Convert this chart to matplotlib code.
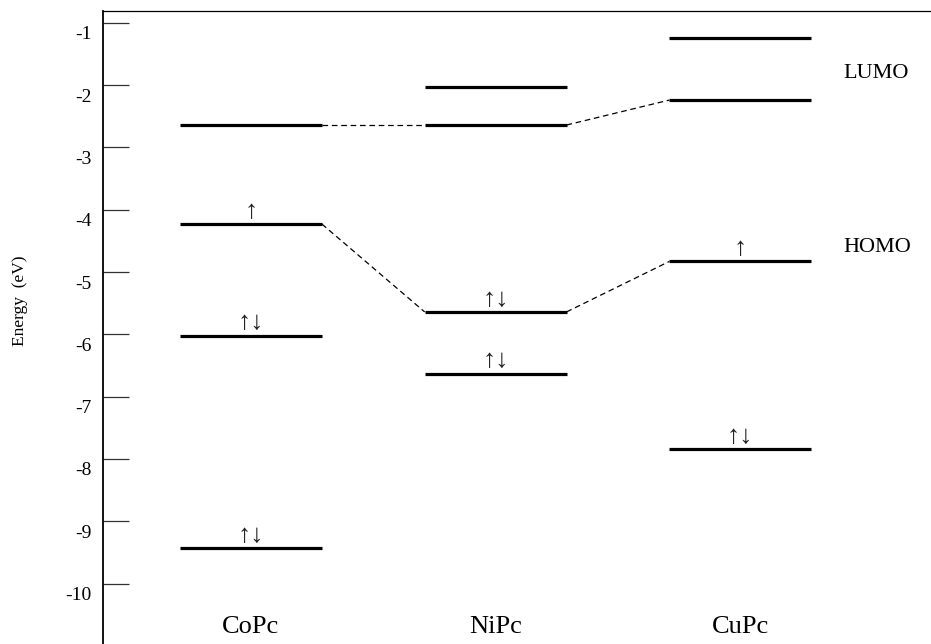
import matplotlib
matplotlib.use("Agg")
import matplotlib.pyplot as plt
from matplotlib.transforms import ScaledTranslation

plt.rcParams['font.family'] = ['Liberation Serif', 'DejaVu Sans']
plt.rcParams['axes.unicode_minus'] = False

# molecules and their orbital energies (eV)
molecules = ['CoPc', 'NiPc', 'CuPc']
co_levels = [-2.64, -4.23, -6.02, -9.43]
ni_levels = [-2.03, -2.64, -5.64, -6.63]
cu_levels = [-1.24, -2.24, -4.83, -7.84]
co_spins = ['', '↑', '↑↓', '↑↓']
ni_spins = ['', '', '↑↓', '↑↓']
cu_spins = ['', '', '↑', '↑↓']

# dashed links: (molecule index, energy) -> (molecule index, energy)
lumo_links = [(0, -2.64, 1, -2.64), (1, -2.64, 2, -2.24)]
homo_links = [(0, -4.23, 1, -5.64), (1, -5.64, 2, -4.83)]

fig = plt.figure(figsize=(9.31, 6.44), dpi=100)
ax = fig.add_axes([103 / 931, 0.0, 828 / 931, 633 / 644])

half = 0.29
all_levels = [co_levels, ni_levels, cu_levels]
all_spins = [co_spins, ni_spins, cu_spins]
for i, (levels, spins) in enumerate(zip(all_levels, all_spins)):
    xc = i + 1
    for e, s in zip(levels, spins):
        ax.plot([xc - half, xc + half], [e, e], color='black', lw=2.3,
                solid_capstyle='butt')
        if s:
            ax.text(xc, e + 0.02, s, ha='center', va='bottom', fontsize=19,
                    color='#222222')
    ax.text(xc, -10.69, molecules[i], ha='center', va='center', fontsize=19)

for a, ea, b, eb in lumo_links + homo_links:
    ax.plot([a + 1 + half, b + 1 - half], [ea, eb], color='black', lw=0.9,
            ls=(0, (4.5, 3)))

ax.text(3.42, -1.81, 'LUMO', ha='left', va='center', fontsize=16)
ax.text(3.42, -4.60, 'HOMO', ha='left', va='center', fontsize=16)

ax.set_xlim(0.395, 3.78)
ax.set_ylim(-10.97, -0.81)
ax.set_xticks([])
ax.set_yticks(range(-10, 0))
ax.tick_params(axis='y', direction='in', length=19, width=0.9, color='#333333',
               labelsize=14, pad=8)
off = ScaledTranslation(0, -0.1, fig.dpi_scale_trans)
for lab in ax.get_yticklabels():
    lab.set_transform(lab.get_transform() + off)

ax.spines['right'].set_visible(False)
ax.spines['bottom'].set_visible(False)
ax.spines['left'].set_linewidth(1.3)
ax.spines['top'].set_linewidth(0.9)

ax.set_ylabel('Energy  (eV)', fontsize=12.5)
ax.yaxis.set_label_coords(-0.0906, 0.543)

fig.savefig('out.png', dpi=100)
